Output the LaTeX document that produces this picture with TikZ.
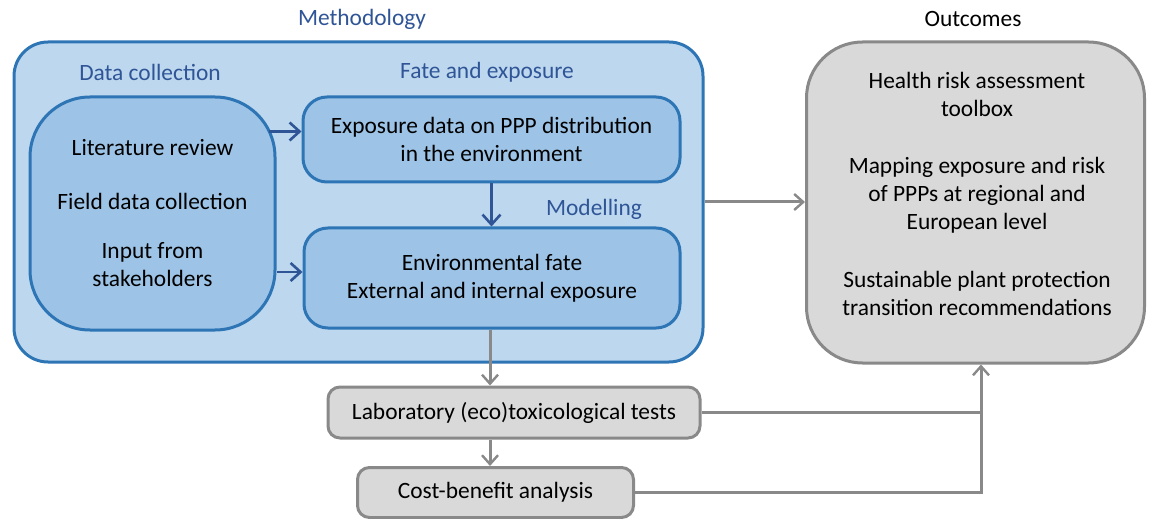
\documentclass[tikz,border=0pt]{standalone}
\usepackage{fontspec}
\setmainfont{Carlito}
\usetikzlibrary{arrows.meta,calc}
\definecolor{bluefillA}{HTML}{BDD7EE}
\definecolor{bluefillB}{HTML}{9DC3E6}
\definecolor{blueline}{HTML}{2E75B6}
\definecolor{bluetext}{HTML}{2F5597}
\definecolor{grayfill}{HTML}{D9D9D9}
\definecolor{grayline}{HTML}{898989}
\begin{document}
\begin{tikzpicture}[x=0.5pt,y=-0.5pt,
  every node/.style={font=\fontsize{11.7}{14}\selectfont},
  outerbox/.style={draw=blueline,line width=1.5pt,fill=bluefillA,rounded corners=17pt,inner sep=0pt},
  innerbox/.style={draw=blueline,line width=1.5pt,fill=bluefillB,inner sep=0pt,align=center},
  graybox/.style={draw=grayline,line width=1.5pt,fill=grayfill,inner sep=0pt,align=center},
  heading/.style={text=bluetext,inner sep=0pt},
  barrow/.style={draw=bluetext,line width=1.3pt,-{Straight Barb[length=5pt,width=9pt,line width=1.3pt]}},
  garrow/.style={draw=grayline,line width=1.5pt,-{Straight Barb[length=4.5pt,width=8pt,line width=1.2pt]}},
  gline/.style={draw=grayline,line width=1.5pt},
]
\useasboundingbox (0,0) rectangle (1158,519);
% titles
\node[heading] (tmeth) at (362,19) {Methodology};
\node[inner sep=0pt] (tout) at (973,19) {Outcomes};
% outer methodology box
\node[outerbox,minimum width=344.5pt,minimum height=160pt] (outer) at (358.5,202) {};
\node[heading] (tdata) at (150,72) {Data collection};
\node[heading] (tfate) at (487,72) {Fate and exposure};
\node[heading] (tmod) at (594,209) {Modelling};
% inner boxes
\node[innerbox,rounded corners=30pt,minimum width=122.5pt,minimum height=116.5pt] (left) at (152.5,213.5)
  {Literature review\\[13pt]Field data collection\\[10.5pt]Input from\\stakeholders};
\node[innerbox,rounded corners=12pt,minimum width=188.5pt,minimum height=42.5pt] (top) at (491.5,139.5)
  {\fontsize{11.7}{13}\selectfont Exposure data on PPP distribution\\in the environment};
\node[innerbox,rounded corners=12pt,minimum width=188pt,minimum height=50pt] (bot) at (492,278)
  {\fontsize{11.7}{15.5}\selectfont Environmental fate\\External and internal exposure};
% outcomes box
\node[graybox,rounded corners=28pt,minimum width=169pt,minimum height=160.5pt] (gray) at (975.5,202.5) {};
\node[inner sep=0pt,align=center,anchor=north] (gtext) at (977,72)
  {Health risk assessment\\toolbox\\[14.5pt]Mapping exposure and risk\\of PPPs at regional and\\European level\\[15pt]Sustainable plant protection\\transition recommendations};
% lower boxes
\node[graybox,rounded corners=6pt,minimum width=186pt,minimum height=25.5pt] (lab) at (514,412.5)
  {Laboratory (eco)toxicological tests};
\node[graybox,rounded corners=6pt,minimum width=138pt,minimum height=25pt] (cost) at (495.5,492.5)
  {Cost-benefit analysis};
\coordinate (jx) at (981,0);
% connectors
\draw[barrow] ([yshift=4pt,xshift=-4pt]top.west -| left.east) -- ([yshift=4pt]top.west);
\draw[barrow] ([yshift=3pt]bot.west -| left.east) -- ([yshift=3pt]bot.west);
\draw[barrow] (top.south) -- (top.south |- bot.north);
\draw[garrow] (outer.east) -- (outer.east -| gray.west);
\draw[garrow] ([xshift=-1pt]bot.south) -- ([xshift=-1pt]bot.south |- lab.north);
\draw[garrow] ([xshift=-1pt]bot.south |- lab.south) -- ([xshift=-1pt]bot.south |- cost.north);
\draw[gline] (lab.east) -- (lab.east -| jx);
\draw[garrow] (cost.east) -- (cost.east -| jx) -- (jx |- gray.south);
\end{tikzpicture}
\end{document}
